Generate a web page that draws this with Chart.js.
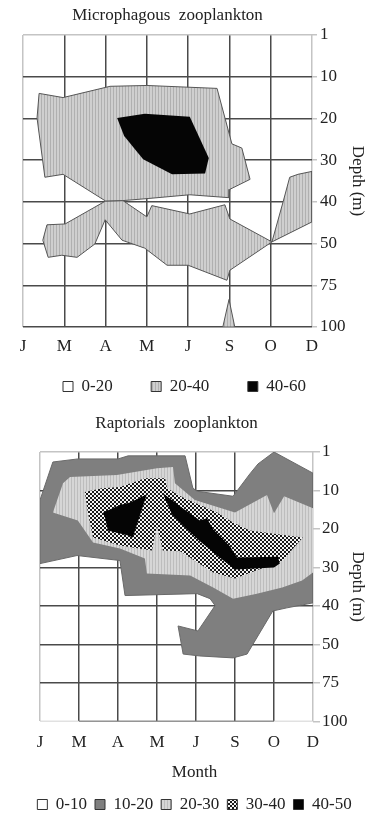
<!DOCTYPE html>
<html><head><meta charset="utf-8">
<script src="https://cdn.jsdelivr.net/npm/chart.js@4.4.1/dist/chart.umd.min.js"></script>
<style>
html,body{margin:0;padding:0;background:#fff;overflow:hidden;width:369px;height:815px;}
#c1{position:absolute;left:0;top:0;}
#c2{position:absolute;left:0;top:405px;}
</style></head><body>
<canvas id="c1" width="369" height="405"></canvas>
<canvas id="c2" width="369" height="418"></canvas>
<script>
// ---- categories / tick labels ----
const months = ['J','M','A','M','J','S','O','D'];
const depthLabels = ['1','10','20','30','40','50','75','100'];

// ---- Microphagous zooplankton: contour patches [month position, depth position] ----
const microLabels = ['0-20','20-40','40-60'];
const micro20_40 = [
  [[0.39,1.40],[0.97,1.50],[2.11,1.23],[3.00,1.21],[4.70,1.28],[5.06,2.61],[5.30,2.71],[5.50,3.46],[5.01,3.70],[4.99,3.90],[4.04,3.83],[3.03,3.92],[2.42,3.97],[2.00,3.98],[0.97,3.34],[0.53,3.41],[0.34,1.99]],
  [[2.00,3.98],[2.42,3.97],[3.00,4.36],[3.12,4.09],[4.04,4.29],[4.89,4.07],[5.01,4.41],[6.03,4.96],[5.01,5.64],[4.94,5.88],[4.00,5.52],[3.49,5.52],[2.95,5.11],[2.40,4.92],[1.99,4.43],[1.74,5.01],[1.31,5.33],[0.94,5.28],[0.61,5.33],[0.48,4.92],[0.58,4.55],[1.02,4.53]],
  [[6.03,4.96],[6.30,4.00],[6.46,3.41],[6.66,3.34],[7.00,3.27],[7.00,4.48]],
  [[4.84,7.00],[4.99,6.34],[5.13,7.00]]
];
const micro40_60 = [
  [[2.28,1.99],[2.95,1.89],[4.04,1.96],[4.50,2.95],[4.41,3.32],[3.61,3.34],[2.91,2.98],[2.45,2.42]]
];

// ---- Raptorials zooplankton ----
const raptLabels = ['0-10','10-20','20-30','30-40','40-50'];
const rapt10_20 = [
  [[0.00,1.25],[0.33,0.26],[0.97,0.18],[2.00,0.18],[2.26,0.10],[3.72,0.10],[3.92,0.94],[4.03,1.02],[4.95,1.15],[5.38,0.57],[5.59,0.31],[6.00,0.00],[7.00,0.55],[7.00,3.92],[6.33,4.05],[5.97,4.13],[5.31,5.25],[4.95,5.35],[4.10,5.30],[3.67,5.25],[3.54,4.52],[4.05,4.65],[4.49,3.99],[4.36,3.81],[4.03,3.68],[2.18,3.73],[2.05,2.82],[0.95,2.69],[0.00,2.90]]
];
const rapt20_30 = [
  [[0.33,1.57],[0.59,0.81],[0.77,0.65],[1.97,0.60],[3.00,0.42],[3.41,0.39],[3.46,0.81],[3.97,1.25],[5.00,1.57],[5.82,1.12],[6.00,1.59],[6.26,1.15],[7.00,1.46],[7.00,3.13],[6.72,3.34],[6.21,3.52],[5.56,3.68],[4.95,3.81],[4.44,3.52],[3.85,3.21],[2.74,3.16],[2.69,2.77],[2.05,2.51],[1.36,2.35],[0.97,1.78]]
];
const rapt30_40 = [
  [[1.15,1.04],[1.59,0.94],[2.05,0.91],[2.69,0.68],[3.21,0.68],[3.26,0.94],[3.64,1.17],[4.54,1.57],[4.95,1.83],[5.38,2.04],[6.49,2.19],[6.74,2.22],[6.49,2.51],[6.23,2.82],[5.00,3.29],[4.44,3.13],[3.59,2.58],[3.15,2.56],[3.00,1.93],[2.87,2.56],[2.05,2.43],[1.36,2.22],[1.23,1.59]]
];
const rapt40_50 = [
  [[1.62,1.57],[2.05,1.38],[2.31,1.31],[2.74,1.10],[2.38,2.22],[2.26,2.17],[1.74,2.04],[1.67,1.72]],
  [[3.15,1.07],[3.59,1.41],[4.10,1.78],[4.28,1.72],[4.44,2.01],[4.87,2.45],[5.05,2.74],[6.10,2.72],[6.15,2.90],[6.00,3.00],[5.00,3.05],[4.67,2.79],[4.10,2.32],[3.74,1.98],[3.38,1.62]]
];

// ---- styling helpers ----
Chart.defaults.font.family = "'Liberation Serif','Times New Roman',serif";
Chart.defaults.font.size = 17;
Chart.defaults.color = '#222';
const LIGHT = '#c4c4c4', DARK = '#4a4a4a';

function makePattern(ctx, rows, colors) {
  const t = document.createElement('canvas');
  t.width = rows[0].length; t.height = rows.length;
  const g = t.getContext('2d');
  rows.forEach((r, y) => [...r].forEach((ch, x) => { g.fillStyle = colors[ch]; g.fillRect(x, y, 1, 1); }));
  return ctx.createPattern(t, 'repeat');
}

function polyDatasets(polys, label, fill, stroke, order) {
  return polys.map((p, i) => ({
    label,
    data: p.concat([p[0]]).map(q => ({x: q[0], y: q[1]})),
    showLine: true, fill: 'shape', tension: 0,
    backgroundColor: fill, borderColor: stroke || 'rgba(0,0,0,0)', borderWidth: stroke ? 1 : 0,
    pointRadius: 0, pointHoverRadius: 0, order, inLegend: i === 0
  }));
}
function emptyDataset(label) {
  return {label, data: [], showLine: false, fill: false, backgroundColor: '#ffffff',
          borderColor: '#333', borderWidth: 1, pointRadius: 0, order: 0, inLegend: true};
}
function lineDataset(pts, color, order) {
  return {label: '', data: pts.map(q => ({x: q[0], y: q[1]})), showLine: true, fill: false,
          borderColor: color, borderWidth: 1.5, pointRadius: 0, order, inLegend: false};
}
function legendLabels(spacers) {
  return chart => {
    const items = Chart.defaults.plugins.legend.labels.generateLabels(chart)
      .filter(l => chart.data.datasets[l.datasetIndex].inLegend)
      .sort((a, b) => a.datasetIndex - b.datasetIndex);
    const out = [];
    items.forEach((l, i) => {
      l.strokeStyle = '#333'; l.lineWidth = 1;
      out.push(l);
      if (spacers && i < items.length - 1) {
        out.push({text: '', fillStyle: 'rgba(0,0,0,0)', strokeStyle: 'rgba(0,0,0,0)', lineWidth: 0,
                  hidden: false, datasetIndex: l.datasetIndex, fontColor: 'rgba(0,0,0,0)'});
      }
    });
    return out;
  };
}

function baseOptions(o) {
  return {
    responsive: false, animation: false, events: [],
    layout: {padding: {left: o.padLeft, right: 0, top: 0, bottom: 0}},
    scales: {
      x: {type: 'linear', min: 0, max: 7, position: 'bottom', z: 1,
          afterFit: s => { s.height = o.xH; },
          ticks: {stepSize: 1, autoSkip: false, maxRotation: 0, padding: o.xPad,
                  callback: v => months[Math.round(v)]},
          grid: {drawTicks: false, lineWidth: 1.5,
                 color: c => (c.tick && (c.tick.value === 0 || c.tick.value === 7)) ? LIGHT : DARK},
          border: {display: false}},
      y: {type: 'linear', min: 0, max: 7, reverse: true, position: 'right', z: 1,
          afterFit: s => { s.width = o.yW; },
          ticks: {stepSize: 1, autoSkip: false, padding: o.yPad,
                  callback: v => depthLabels[Math.round(v)]},
          grid: {tickLength: o.tickLen, tickColor: LIGHT, lineWidth: 1.5,
                 color: c => {
                   const v = c.tick ? c.tick.value : -1;
                   if (v === 0) return LIGHT;
                   if (v === 7) return o.bottomLine;
                   return DARK;
                 }},
          border: {display: false},
          title: {display: true, text: 'Depth (m)', padding: {top: 1, bottom: 0}}},
      yl: {type: 'linear', position: 'left', display: true,
           afterFit: s => { s.width = o.leftW; },
           grid: {display: false}, ticks: {display: false}, border: {display: false}}
    },
    plugins: {
      tooltip: {enabled: false},
      title: {display: true, text: o.title, fullSize: false, padding: o.titlePad,
              font: {size: 17, weight: 'normal'}, color: '#222'},
      subtitle: o.subtitle ? {display: true, text: o.subtitle, position: 'bottom', weight: 500,
              padding: {top: 11.2, bottom: 5}, font: {size: 17}, color: '#222'} : {display: false},
      legend: {display: true, position: 'bottom',
               labels: {boxWidth: 10, boxHeight: 10, padding: o.legPad, font: {size: 17}, color: '#222',
                        generateLabels: legendLabels(o.spacers)}}
    }
  };
}

// ---- chart 1 ----
const ctx1 = document.getElementById('c1').getContext('2d');
const hatch1 = makePattern(ctx1, ['aab'], {a: '#cfcfcf', b: '#b0b0b0'});
new Chart(ctx1, {
  type: 'scatter',
  data: {datasets: [
    emptyDataset(microLabels[0]),
    ...polyDatasets(micro20_40, microLabels[1], hatch1, '#555', 3),
    ...polyDatasets(micro40_60, microLabels[2], '#050505', null, 1)
  ]},
  options: baseOptions({padLeft: 0, leftW: 23, yW: 57, xH: 41, xPad: 9, yPad: 3, tickLen: 5,
    bottomLine: DARK, title: 'Microphagous  zooplankton', titlePad: {top: 5, bottom: 9.6},
    legPad: 10, spacers: true})
});

// ---- chart 2 ----
const ctx2 = document.getElementById('c2').getContext('2d');
const hatch2 = makePattern(ctx2, ['aab'], {a: '#d6d6d6', b: '#bdbdbd'});
const check2 = makePattern(ctx2, ['WWBB', 'WWBB', 'BBWW', 'BBWW'], {W: '#f4f4f4', B: '#181818'});
new Chart(ctx2, {
  type: 'scatter',
  data: {datasets: [
    emptyDataset(raptLabels[0]),
    ...polyDatasets(rapt10_20, raptLabels[1], '#7f7f7f', '#6a6a6a', 4),
    ...polyDatasets(rapt20_30, raptLabels[2], hatch2, null, 3),
    ...polyDatasets(rapt30_40, raptLabels[3], check2, null, 2),
    ...polyDatasets(rapt40_50, raptLabels[4], '#050505', null, 1),
    lineDataset([[0, 7], [7, 7]], LIGHT, 6),
    lineDataset([[1, 7], [6, 7]], DARK, 5)
  ]},
  options: baseOptions({padLeft: 20, leftW: 20, yW: 56, xH: 30, xPad: 11, yPad: 2, tickLen: 7,
    bottomLine: 'rgba(0,0,0,0)', title: 'Raptorials  zooplankton', titlePad: {top: 8.8, bottom: 17.8},
    subtitle: 'Month', legPad: 8, spacers: false})
});
</script>
</body></html>
